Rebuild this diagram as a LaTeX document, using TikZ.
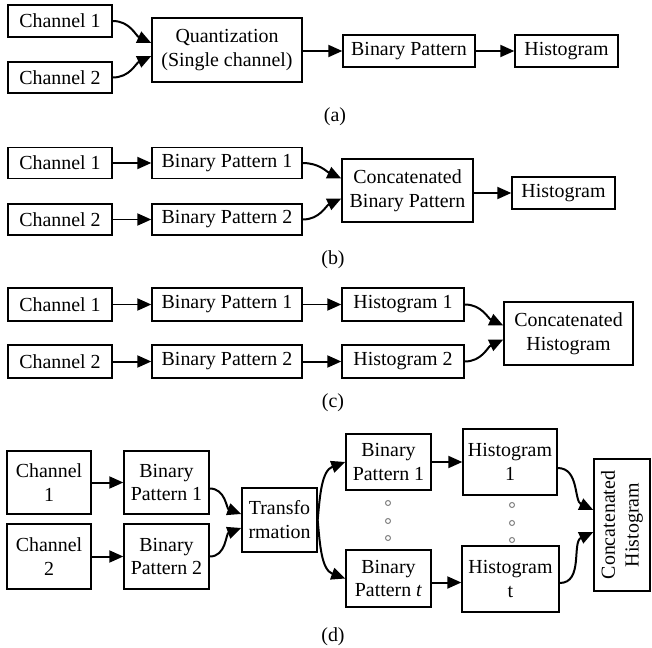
\documentclass[tikz,border=0pt]{standalone}
\usepackage{fontspec}
\setmainfont{Liberation Serif}
\usepackage{tikz}
\usetikzlibrary{positioning,arrows.meta,calc}

\tikzset{
	blk/.style={draw,line width=0.7pt,inner sep=0pt,align=center},
	arr/.style={line width=1pt,-{Triangle[length=7bp,width=6bp]}},
	dotc/.style={draw=gray,line width=0.5pt}
}

\begin{document}
\begin{tikzpicture}[x=0.5bp,y=-0.5bp,font=\fontsize{10}{12}\selectfont]
		
		\useasboundingbox (0,0) rectangle (652,648);
		
		% (a)
		\node[blk,minimum width=52bp,minimum height=16bp] (ch1a)
		at (60,21) {Channel 1};
		
		\node[blk,minimum width=52bp,minimum height=15.5bp] (ch2a)
		at (60,77.5) {Channel 2};
		
		\node[blk,minimum width=75bp,minimum height=32bp] (quant)
		at (227,50) {Quantization\\(Single channel)};
		
		\node[blk,minimum width=66bp,minimum height=16bp] (bpa)
		at (409,51) {Binary Pattern};
		
		\node[blk,minimum width=51.5bp,minimum height=16bp] (hista)
		at (566.5,51) {Histogram};
		
		\draw[arr] (ch1a.east) to[out=0,in=155] ([yshift=3.5bp]quant.west);
		\draw[arr] (ch2a.east) to[out=0,in=205] ([yshift=-3bp]quant.west);
		\draw[arr] (quant.east |- bpa.west) -- (bpa.west);
		\draw[arr] (bpa.east) -- (hista.west);
		
		\node (lbla) at (335,117) {(a)};
		
		% (b)
		\node[blk,minimum width=52bp,minimum height=15.5bp] (ch1b)
		at (60,163) {Channel 1};
		
		\node[blk,minimum width=52bp,minimum height=15.5bp] (ch2b)
		at (60,219.5) {Channel 2};
		
		\node[blk,minimum width=75bp,minimum height=15.5bp] (bp1b)
		at (227,163) {Binary Pattern 1};
		
		\node[blk,minimum width=75bp,minimum height=15.5bp] (bp2b)
		at (227,219.5) {Binary Pattern 2};
		
		\node[blk,minimum width=65.5bp,minimum height=31.5bp] (cbp)
		at (407.5,190.5) {Concatenated\\Binary Pattern};
		
		\node[blk,minimum width=51.5bp,minimum height=16bp] (histb)
		at (563.5,193) {Histogram};
		
		\draw[arr] (ch1b) -- (bp1b);
		\draw[arr] (ch2b) -- (bp2b);
		\draw[arr] (bp1b.east) to[out=0,in=155] ([yshift=6bp]cbp.west);
		\draw[arr] (bp2b.east) to[out=0,in=205] ([yshift=-4bp]cbp.west);
		\draw[arr] (cbp.east |- histb.west) -- (histb.west);
		
		\node (lblb) at (333,260) {(b)};
		
		% (c)
		\node[blk,minimum width=52bp,minimum height=16.5bp] (ch1c)
		at (60,304.5) {Channel 1};
		
		\node[blk,minimum width=52bp,minimum height=16.5bp] (ch2c)
		at (60,361.5) {Channel 2};
		
		\node[blk,minimum width=75bp,minimum height=16.5bp] (bp1c)
		at (227,304.5) {Binary Pattern 1};
		
		\node[blk,minimum width=75bp,minimum height=16.5bp] (bp2c)
		at (227,361.5) {Binary Pattern 2};
		
		\node[blk,minimum width=61bp,minimum height=16.5bp] (hist1c)
		at (403,304.5) {Histogram 1};
		
		\node[blk,minimum width=61bp,minimum height=16.5bp] (hist2c)
		at (403,361.5) {Histogram 2};
		
		\node[blk,minimum width=64.5bp,minimum height=31.5bp] (chist)
		at (568.5,333.5) {Concatenated\\Histogram};
		
		\draw[arr] (ch1c) -- (bp1c);
		\draw[arr] (ch2c) -- (bp2c);
		\draw[arr] (bp1c) -- (hist1c);
		\draw[arr] (bp2c) -- (hist2c);
		\draw[arr] (hist1c.east) to[out=0,in=155] ([yshift=4bp]chist.west);
		\draw[arr] (hist2c.east) to[out=0,in=205] ([yshift=-3bp]chist.west);
		
		\node (lblc) at (333,403) {(c)};
		
		% (d)
		\node[blk,minimum width=42bp,minimum height=31.5bp] (ch1d)
		at (49,482.5) {Channel\\1};
		
		\node[blk,minimum width=42bp,minimum height=32.5bp] (ch2d)
		at (49,556.5) {Channel\\2};
		
		\node[blk,minimum width=42.5bp,minimum height=31.5bp] (bp1d)
		at (166.5,482.5) {Binary\\Pattern 1};
		
		\node[blk,minimum width=42.5bp,minimum height=32.5bp] (bp2d)
		at (166.5,556.5) {Binary\\Pattern 2};
		
		\node[blk,minimum width=37.5bp,minimum height=32bp] (trans)
		at (279.5,520) {Transfo\\rmation};
		
		\node[blk,minimum width=42.5bp,minimum height=28bp] (bp1r)
		at (388.5,462) {Binary\\Pattern 1};
		
		\node[blk,minimum width=42.5bp,minimum height=28.5bp] (bptr)
		at (388.5,578.5) {Binary\\Pattern \textit{t}};
		
		\node[blk,minimum width=47bp,minimum height=33bp] (hist1r)
		at (510,462) {Histogram\\1};
		
		\node[blk,minimum width=48.5bp,minimum height=33bp] (histtr)
		at (510.5,579) {Histogram\\t};
		
		\node[blk,rotate=90,minimum width=66bp,minimum height=28bp] (chistd)
		at (622,525) {Concatenated\\Histogram};
		
		\foreach \yy in {503,521,538} {
			\draw[dotc] (388,\yy) circle (2.5);
			\draw[dotc] (512,\yy+2) circle (2.5);
		}
		
		\draw[arr] (ch1d) -- (bp1d);
		\draw[arr] (ch2d) -- (bp2d);
		\draw[arr] ([yshift=-3bp]bp1d.east) to[out=0,in=160] ([yshift=3bp]trans.west);
		\draw[arr] (bp2d.east) to[out=0,in=200] ([yshift=-4bp]trans.west);
		\draw[arr] (trans.east) to[out=85,in=200] (bp1r.west);
		\draw[arr] (trans.east) to[out=-85,in=160] (bptr.west);
		\draw[arr] (bp1r) -- (bp1r -| hist1r.west);
		\draw[arr] ([yshift=-2bp]bptr.east) -- ([yshift=-2bp]bptr.east -| histtr.west);
		\draw[arr] ([yshift=-3bp]hist1r.east) to[out=0,in=155] ([yshift=7.5bp]chistd.north);
		\draw[arr] ([yshift=-2bp]histtr.east) to[out=0,in=205] ([yshift=-3.5bp]chistd.north);
		
		\node (lbld) at (333,637) {(d)};
		
	\end{tikzpicture}
\end{document}
